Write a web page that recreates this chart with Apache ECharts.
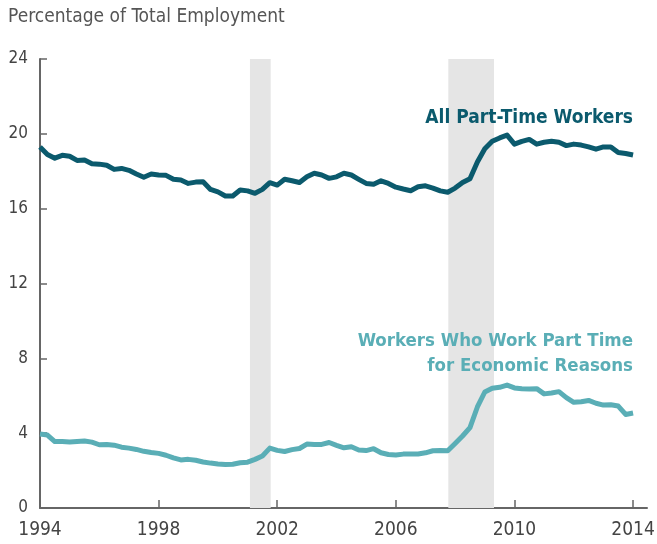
<!DOCTYPE html>
<html>
<head>
<meta charset="utf-8">
<script src="https://cdn.jsdelivr.net/npm/echarts@6/dist/echarts.min.js"></script>
<style>
  html, body { margin: 0; padding: 0; background: #fff; }
  #chart { width: 657px; height: 544px; }
</style>
</head>
<body>
<div id="chart"></div>
<script>
// quarterly, 1994Q1 .. 2014Q1
var startYear = 1994;
var allPartTime = [
  19.3, 18.9, 18.7, 18.85,
  18.8, 18.58, 18.6, 18.4,
  18.38, 18.32, 18.1, 18.15,
  18.05, 17.85, 17.68, 17.85,
  17.8, 17.78, 17.57, 17.53,
  17.35, 17.42, 17.44, 17.03,
  16.9, 16.68, 16.68, 17.0,
  16.95, 16.82, 17.03, 17.39,
  17.26, 17.57, 17.49, 17.4,
  17.7, 17.89, 17.8, 17.62,
  17.7, 17.89, 17.8, 17.57,
  17.35, 17.3, 17.49, 17.35,
  17.15, 17.05, 16.96, 17.17,
  17.22, 17.1, 16.95, 16.88,
  17.1, 17.4, 17.6, 18.5,
  19.2, 19.6, 19.78, 19.93,
  19.45, 19.6, 19.7, 19.45,
  19.55, 19.6, 19.55, 19.37,
  19.45, 19.4, 19.3, 19.18,
  19.3, 19.3, 19.0, 18.95,
  18.87
];
var economicReasons = [
  3.95, 3.9, 3.55, 3.55,
  3.53, 3.56, 3.58, 3.52,
  3.38, 3.4, 3.36, 3.25,
  3.2, 3.13, 3.03, 2.97,
  2.92, 2.82, 2.68, 2.57,
  2.6, 2.55, 2.46, 2.4,
  2.35, 2.33, 2.34, 2.42,
  2.45, 2.6, 2.78, 3.2,
  3.08, 3.02, 3.12, 3.18,
  3.42, 3.4, 3.4, 3.5,
  3.35, 3.22, 3.27, 3.1,
  3.07, 3.17, 2.95, 2.86,
  2.83, 2.88, 2.89, 2.89,
  2.95, 3.06, 3.08, 3.06,
  3.45, 3.85, 4.3, 5.4,
  6.2, 6.4, 6.45, 6.57,
  6.42, 6.38, 6.36, 6.38,
  6.1, 6.15, 6.22, 5.9,
  5.65, 5.68, 5.75, 5.6,
  5.5, 5.52, 5.45, 5.0,
  5.08
];
var recessions = [[2001.08, 2001.78], [2007.77, 2009.31]];
var xTicks = [1994, 1998, 2002, 2006, 2010, 2014];

var darkTeal = '#0b5a6d';
var lightTeal = '#5aaeb6';
var axisGrey = '#666';
var font = '"Liberation Sans Narrow", "DejaVu Sans Condensed", sans-serif';

function toPairs(arr){
    return arr.map(function (v, i) { return [startYear + i / 4, v]; });
}

var chart = echarts.init(document.getElementById('chart'));
chart.setOption({
    animation: false,
    grid: {
        left: 40,
        right: 10,
        top: 59,
        bottom: 36,
        containLabel: false,
        outerBoundsMode: 'none'
    },
    graphic: [
        {
            type: 'text', x: 8, y: 17, z: 100,
            style: { text: 'Percentage of Total Employment', fill: '#555', font: '19px ' + font, align: 'left', verticalAlign: 'middle' }
        },
        {
            type: 'text', x: 633, y: 118, z: 100,
            style: { text: 'All Part-Time Workers', fill: darkTeal, font: 'bold 19px ' + font, align: 'right', verticalAlign: 'middle' }
        },
        {
            type: 'text', x: 633, y: 341, z: 100,
            style: { text: 'Workers Who Work Part Time', fill: lightTeal, font: 'bold 18.5px ' + font, align: 'right', verticalAlign: 'middle' }
        },
        {
            type: 'text', x: 633, y: 366, z: 100,
            style: { text: 'for Economic Reasons', fill: lightTeal, font: 'bold 18.5px ' + font, align: 'right', verticalAlign: 'middle' }
        }
    ],
    xAxis: {
        type: 'value',
        min: 1994,
        max: 2014.47,
        splitLine: { show: false },
        axisLine: { show: true, onZero: false, lineStyle: { color: axisGrey, width: 2 } },
        axisTick: {
            show: true, inside: true, length: 8,
            customValues: xTicks,
            lineStyle: { color: axisGrey, width: 1.5 }
        },
        axisLabel: {
            customValues: xTicks,
            formatter: function (v) { return String(v); },
            color: '#444',
            fontFamily: font,
            fontSize: 19,
            margin: 13
        }
    },
    yAxis: {
        type: 'value',
        min: 0,
        max: 24,
        interval: 4,
        splitLine: { show: false },
        axisLine: { show: true, lineStyle: { color: axisGrey, width: 2 } },
        axisTick: { show: true, inside: true, length: 7, lineStyle: { color: axisGrey, width: 1.5 } },
        axisLabel: {
            color: '#444',
            fontFamily: font,
            fontSize: 17,
            margin: 12
        }
    },
    series: [
        {
            name: 'recessions',
            type: 'line',
            data: [],
            z: 1,
            markArea: {
                silent: true,
                itemStyle: { color: '#e5e5e5' },
                data: recessions.map(function (r) {
                    return [{ xAxis: r[0] }, { xAxis: r[1] }];
                })
            }
        },
        {
            name: 'All Part-Time Workers',
            type: 'line',
            data: toPairs(allPartTime),
            symbol: 'none',
            z: 3,
            lineStyle: { color: darkTeal, width: 5, join: 'round' }
        },
        {
            name: 'Workers Who Work Part Time for Economic Reasons',
            type: 'line',
            data: toPairs(economicReasons),
            symbol: 'none',
            z: 3,
            lineStyle: { color: lightTeal, width: 5, join: 'round' }
        }
    ]
});
</script>
</body>
</html>
